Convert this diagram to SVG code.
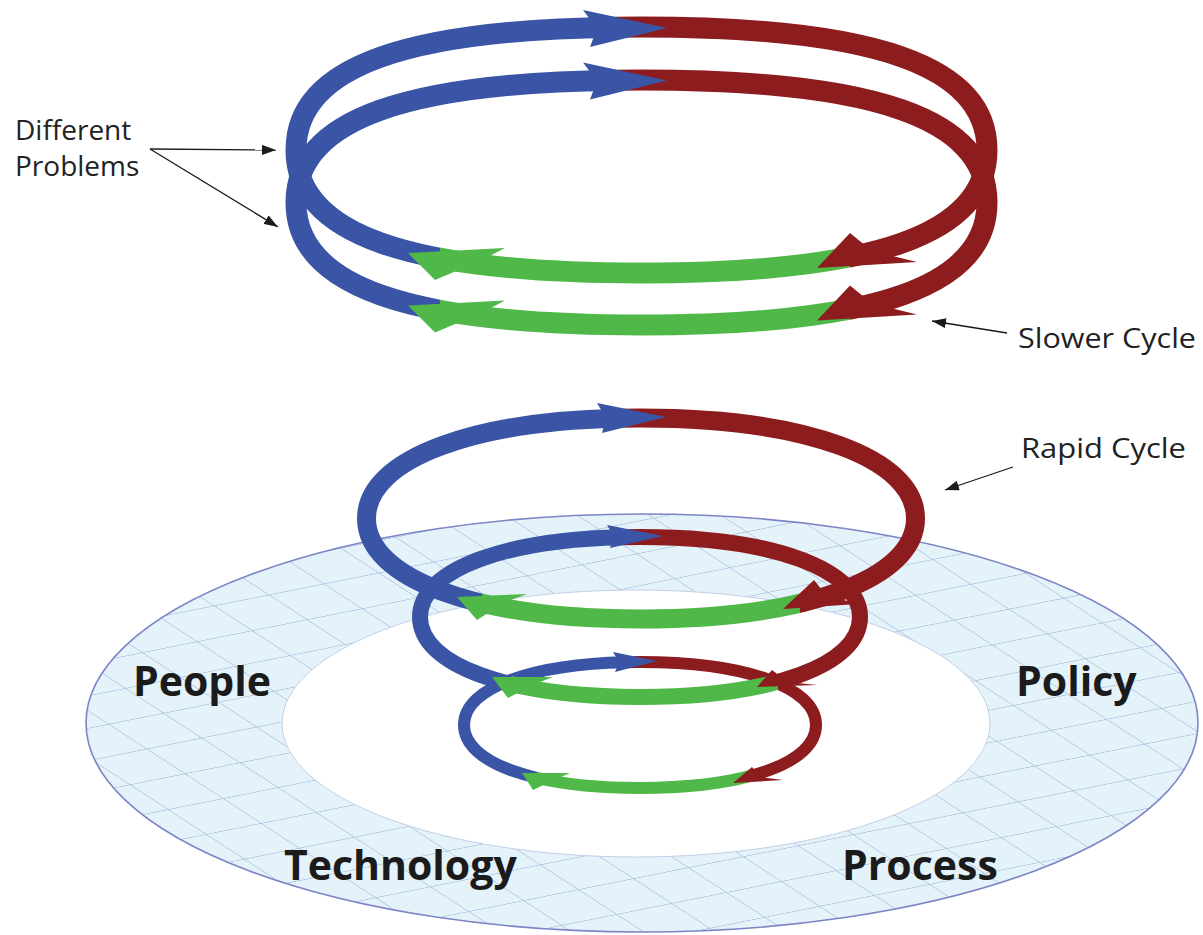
<svg xmlns="http://www.w3.org/2000/svg" width="1203" height="935" viewBox="0 0 1203 935">
<style>
.b{fill:none;stroke:#3b55a6}
.r{fill:none;stroke:#8d1c1e}
.g{fill:none;stroke:#4fb849}
.fb{fill:#3b55a6}
.fr{fill:#8d1c1e}
.fg{fill:#4fb849}
.lbl{font-family:"Open Sans","Noto Sans","DejaVu Sans",sans-serif;font-size:28px;fill:#222}
.big{font-family:"Open Sans","Noto Sans","DejaVu Sans",sans-serif;font-size:41px;font-weight:700;fill:#1b1b1b}
.ptr{fill:none;stroke:#1b1b1b;stroke-width:1.3;marker-end:url(#ah)}
</style>
<defs>
<marker id="ah" viewBox="0 0 14 10" refX="14" refY="5" markerWidth="14" markerHeight="10" markerUnits="userSpaceOnUse" orient="auto"><path d="M0,0L14,5L0,10Z" fill="#1b1b1b"/></marker>
<pattern id="grid" patternUnits="userSpaceOnUse" width="56" height="45.5" patternTransform="matrix(0.981 -0.196 0.838 0.545 0 0)">
<path d="M0,0.5H56M0.5,0V45.5" fill="none" stroke="#aabdde" stroke-width="0.9"/>
</pattern>
<path id="ring" fill-rule="evenodd" d="M86,723A556,209 0 1,0 1198,723A556,209 0 1,0 86,723ZM282,723.5A354,133.5 0 1,0 990,723.5A354,133.5 0 1,0 282,723.5Z"/>
<path id="p-t1" d="M641.5,27C876.4,27 987,66.4 987,150C987,233.6 876.4,273 641.5,273C406.6,273 296,233.6 296,150C296,66.4 406.6,27 641.5,27Z"/>
<path id="p-t2" d="M641.5,80C876.4,80 987,119.2 987,202.5C987,285.8 876.4,325 641.5,325C406.6,325 296,285.8 296,202.5C296,119.2 406.6,80 641.5,80Z"/>
<path id="p-r1" d="M641,418C805.7,418 915.5,458.2 915.5,518.5C915.5,578.8 805.7,619 641,619C476.3,619 366.5,578.8 366.5,518.5C366.5,458.2 476.3,418 641,418Z"/>
<path id="p-r2" d="M640,537C772,537 860,569 860,617C860,665 772,697 640,697C508,697 420,665 420,617C420,569 508,537 640,537Z"/>
<path id="p-r3" d="M640,662C745.6,662 816,687.2 816,725C816,762.8 745.6,788 640,788C534.4,788 464,762.8 464,725C464,687.2 534.4,662 640,662Z"/>
<clipPath id="c-t1-b"><path d="M0,0H615V150H440V935H0Z"/></clipPath>
<clipPath id="c-t1-r"><path d="M615,0H1203V935H850V150H615Z"/></clipPath>
<clipPath id="c-t1-g"><path d="M440,150H850V935H440Z"/></clipPath>
<clipPath id="c-t2-b"><path d="M0,0H615V202.5H440V935H0Z"/></clipPath>
<clipPath id="c-t2-r"><path d="M615,0H1203V935H850V202.5H615Z"/></clipPath>
<clipPath id="c-t2-g"><path d="M440,202.5H850V935H440Z"/></clipPath>
<clipPath id="c-r1-b"><path d="M0,0H617V518.5H482V935H0Z"/></clipPath>
<clipPath id="c-r1-r"><path d="M617,0H1203V935H800V518.5H617Z"/></clipPath>
<clipPath id="c-r1-g"><path d="M482,518.5H800V935H482Z"/></clipPath>
<clipPath id="c-r2-b"><path d="M0,0H622V617H512V935H0Z"/></clipPath>
<clipPath id="c-r2-r"><path d="M622,0H1203V935H778V617H622Z"/></clipPath>
<clipPath id="c-r2-g"><path d="M512,617H778V935H512Z"/></clipPath>
<clipPath id="c-r3-b"><path d="M0,0H625V725H537V935H0Z"/></clipPath>
<clipPath id="c-r3-r"><path d="M625,0H1203V935H752V725H625Z"/></clipPath>
<clipPath id="c-r3-g"><path d="M537,725H752V935H537Z"/></clipPath>
</defs>

<rect width="1203" height="935" fill="#ffffff"/>

<g id="base-ring">
<use href="#ring" fill="#e4f2f9"/>
<use href="#ring" fill="url(#grid)"/>
<ellipse cx="636" cy="723.5" rx="354" ry="133.5" fill="none" stroke="#c3cee8" stroke-width="1"/>
<ellipse cx="642" cy="723" rx="556" ry="209" fill="none" stroke="#7d85c6" stroke-width="1.6"/>
</g>

<g id="ring-labels">
<text class="big" x="133" y="696">People</text>
<text class="big" x="1016" y="696">Policy</text>
<text class="big" x="284" y="880">Technology</text>
<text class="big" x="842" y="880">Process</text>
</g>

<g id="slower-loop-1" stroke-width="21">
<use href="#p-t1" class="b" clip-path="url(#c-t1-b)"/>
<use href="#p-t1" class="r" clip-path="url(#c-t1-r)"/>
<use href="#p-t1" class="g" clip-path="url(#c-t1-g)"/>
<polygon class="fb" points="583,10 667,28 590,47 597,28.5"/>
<polygon class="fr" points="817,268 850,233 872,251 917,262"/>
<polygon class="fg" points="408,253 505,248 480,261 435,280"/>
</g>

<g id="slower-loop-2" stroke-width="21">
<use href="#p-t2" class="b" clip-path="url(#c-t2-b)"/>
<use href="#p-t2" class="r" clip-path="url(#c-t2-r)"/>
<use href="#p-t2" class="g" clip-path="url(#c-t2-g)"/>
<polygon class="fb" points="583,62.5 667,80.5 590,99.5 597,81"/>
<polygon class="fr" points="817,320.5 850,285.5 872,303.5 917,314.5"/>
<polygon class="fg" points="408,305.5 505,300.5 480,313.5 435,332.5"/>
</g>

<g id="rapid-loop-3" stroke-width="12">
<use href="#p-r3" class="b" clip-path="url(#c-r3-b)"/>
<use href="#p-r3" class="r" clip-path="url(#c-r3-r)"/>
<use href="#p-r3" class="g" clip-path="url(#c-r3-g)"/>
<polygon class="fb" points="613,652 657,661 615,672 619,662"/>
<polygon class="fr" points="733,783 752,767 760,777 783,780"/>
<polygon class="fg" points="522,773 570,773 556,779 533,790"/>
</g>

<g id="rapid-loop-2" stroke-width="16">
<use href="#p-r2" class="b" clip-path="url(#c-r2-b)"/>
<use href="#p-r2" class="r" clip-path="url(#c-r2-r)"/>
<use href="#p-r2" class="g" clip-path="url(#c-r2-g)"/>
<polygon class="fb" points="607,525 663,536 610,548 614,536.5"/>
<polygon class="fr" points="757,687 772,670 788,682 817,685"/>
<polygon class="fg" points="492,677 553,677 535,684 508,698"/>
</g>

<g id="rapid-loop-1" stroke-width="19">
<use href="#p-r1" class="b" clip-path="url(#c-r1-b)"/>
<use href="#p-r1" class="r" clip-path="url(#c-r1-r)"/>
<use href="#p-r1" class="g" clip-path="url(#c-r1-g)"/>
<polygon class="fb" points="597,403 666,417 602,433 606,418"/>
<polygon class="fr" points="783,609 814,580 826,595 858,604"/>
<polygon class="fg" points="457,597 527,594 505,602 477,620"/>
</g>

<g id="connectors">
<line class="ptr" x1="150" y1="149" x2="276" y2="150"/>
<line class="ptr" x1="150" y1="149" x2="278" y2="227"/>
<line class="ptr" x1="1007" y1="333" x2="932" y2="321"/>
<line class="ptr" x1="1013" y1="467" x2="945" y2="490"/>
</g>

<g id="callouts">
<text class="lbl" x="15" y="140">Different</text>
<text class="lbl" x="15" y="176">Problems</text>
<text class="lbl" x="1018" y="348" textLength="178" lengthAdjust="spacingAndGlyphs">Slower Cycle</text>
<text class="lbl" x="1021" y="458" textLength="165" lengthAdjust="spacingAndGlyphs">Rapid Cycle</text>
</g>
</svg>
